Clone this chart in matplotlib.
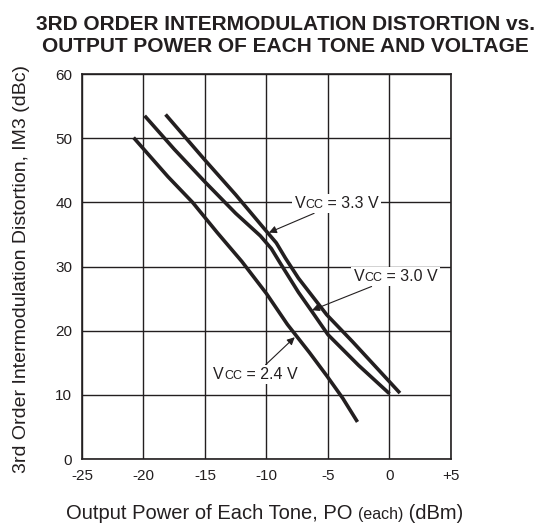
import matplotlib
matplotlib.use('Agg')
import matplotlib.pyplot as plt
from matplotlib.offsetbox import TextArea, HPacker, AnnotationBbox

# curves (Po each in dBm, IM3 in dBc)
po_24 = [-20.8, -18.0, -16.0, -14.0, -12.0, -10.0, -8.3, -6.5, -5.1, -3.8, -2.6]
im3_24 = [50.1, 44.0, 40.0, 35.3, 30.8, 25.8, 21.0, 16.6, 13.0, 9.5, 5.8]

po_30 = [-19.9, -17.5, -15.0, -12.5, -10.5, -9.6, -8.9, -7.4, -6.3, -5.0, -2.5, 0.0]
im3_30 = [53.5, 48.3, 43.2, 38.3, 34.8, 32.8, 30.6, 26.0, 23.0, 19.4, 14.6, 10.2]

po_33 = [-18.2, -15.0, -12.5, -10.0, -9.2, -8.45, -7.4, -5.1, -3.0, 0.85]
im3_33 = [53.7, 46.6, 41.2, 35.5, 33.7, 31.3, 28.2, 22.5, 18.3, 10.3]

xticks = [-25, -20, -15, -10, -5, 0, 5]
xticklabels = ['-25', '-20', '-15', '-10', '-5', '0', '+5']
yticks = [0, 10, 20, 30, 40, 50, 60]

ink = '#231f20'
plt.rcParams['font.family'] = ['Liberation Sans', 'DejaVu Sans']

fig = plt.figure(figsize=(5.46, 5.29), dpi=100)
ax = fig.add_axes([0.150, 0.132, 0.676, 0.728])

for po, im3 in [(po_24, im3_24), (po_30, im3_30), (po_33, im3_33)]:
    ax.plot(po, im3, color=ink, lw=2.6, solid_capstyle='butt', zorder=3)

ax.set_xlim(-25, 5)
ax.set_ylim(0, 60)
ax.set_xticks(xticks)
ax.set_xticklabels(xticklabels)
ax.set_yticks(yticks)
ax.tick_params(length=0, pad=7, labelsize=11, colors=ink)
ax.grid(color=ink, lw=1.0)
ax.set_axisbelow(True)
for s in ax.spines.values():
    s.set_color(ink)
    s.set_linewidth(1.2)


def vcc_label(text, xy, xybox):
    parts = [TextArea('V', textprops=dict(size=11.5, color=ink)),
             TextArea('CC', textprops=dict(size=9, color=ink)),
             TextArea(' = ' + text, textprops=dict(size=11.5, color=ink))]
    box = HPacker(children=parts, align='baseline', pad=0, sep=0)
    ab = AnnotationBbox(box, xy, xybox=xybox, xycoords='data', boxcoords='data',
                        frameon=True, pad=0.15,
                        bboxprops=dict(facecolor='white', edgecolor='none'),
                        arrowprops=dict(arrowstyle='-|>', color=ink, lw=0.8,
                                        mutation_scale=8, shrinkA=0, shrinkB=0),
                        zorder=4)
    ax.add_artist(ab)


vcc_label('3.3 V', (-9.8, 35.3), (-4.3, 39.8))
vcc_label('3.0 V', (-6.3, 23.2), (0.5, 28.4))
vcc_label('2.4 V', (-7.7, 19.0), (-10.9, 13.2))

fig.text(0.523, 0.972,
         '3RD ORDER INTERMODULATION DISTORTION vs.\nOUTPUT POWER OF EACH TONE AND VOLTAGE',
         ha='center', va='top', weight='bold', size=15, color=ink, linespacing=1.2)

fig.text(0.04, 0.491, '3rd Order Intermodulation Distortion, IM3 (dBc)',
         rotation=90, ha='center', va='center', size=14, color=ink)

xl = HPacker(children=[TextArea('Output Power of Each Tone, PO ', textprops=dict(size=14.5, color=ink)),
                       TextArea('(each)', textprops=dict(size=11.5, color=ink)),
                       TextArea(' (dBm)', textprops=dict(size=14.5, color=ink))],
             align='baseline', pad=0, sep=0)
fig.add_artist(AnnotationBbox(xl, (0.485, 0.03), xycoords='figure fraction', frameon=False))

fig.savefig('out.png', dpi=100)
